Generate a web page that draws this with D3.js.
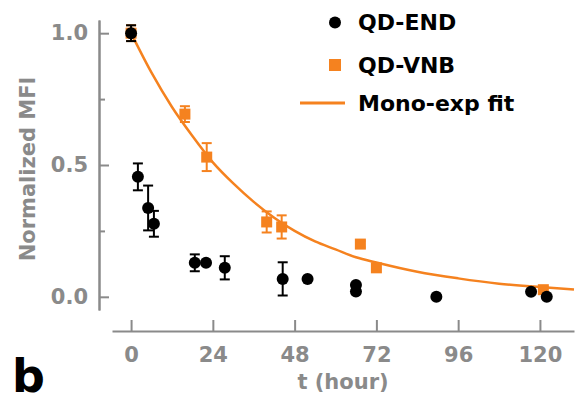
<html>
<head>
<script src="https://d3js.org/d3.v7.min.js"></script>
<style>
body { margin:0; background:#fff; }
text { font-family: "DejaVu Sans", sans-serif; font-weight: bold; }
</style>
</head>
<body>
<svg width="579" height="405"></svg>
<script>
// QD-END (black circles)
var endT   = [0, 2, 5, 6.7, 18.7, 22, 27.5, 44.5, 51.8, 66, 66, 89.6, 117.4, 122];
var endV   = [1.0, 0.455, 0.337, 0.277, 0.129, 0.129, 0.11, 0.068, 0.068, 0.045, 0.02, 0.0, 0.019, 0.0];
var endErr = [0.03, 0.051, 0.085, 0.049, 0.032, 0, 0.044, 0.063, 0, 0, 0, 0, 0, 0];
// QD-VNB (orange squares)
var vnbT   = [0, 15.8, 22.2, 39.8, 44.2, 67.3, 72, 121];
var vnbV   = [1.0, 0.693, 0.53, 0.284, 0.265, 0.2, 0.11, 0.027];
var vnbErr = [0.03, 0.03, 0.053, 0.04, 0.044, 0.012, 0, 0.01];
// mono-exponential fit
var fitT = [0, 6, 12, 18, 24, 30, 36, 42, 48, 54, 60, 66, 72, 84, 96, 108, 120, 130];
var fitV = [1.0, 0.85, 0.72, 0.61, 0.51, 0.43, 0.36, 0.30, 0.25, 0.21, 0.18, 0.15, 0.13, 0.095, 0.07, 0.05, 0.037, 0.028];

var xTicks = [0, 24, 48, 72, 96, 120];
var yTicks = [0, 0.5, 1.0];
var yMinor = [0.25, 0.75];
var legendLabels = ["QD-END", "QD-VNB", "Mono-exp fit"];

var orange = "#f5821f";
var grey = "#8a8a8a";

var svg = d3.select("svg");

var x = d3.scaleLinear().domain([-5.6, 130]).range([112, 574]);
var y = d3.scaleLinear().domain([-0.05, 1.05]).range([310, 20]);

// axes
var xAxis = svg.append("g")
	.attr("transform", "translate(0,331)")
	.call(d3.axisBottom(x).tickValues(xTicks).tickSizeInner(-11).tickSizeOuter(0).tickPadding(16));
var yAxis = svg.append("g")
	.attr("transform", "translate(99,0)")
	.call(d3.axisLeft(y).tickValues(yTicks).tickFormat(d3.format(".1f")).tickSizeInner(-10).tickSizeOuter(0).tickPadding(11));
var yAxisMinor = svg.append("g")
	.attr("transform", "translate(99,0)")
	.call(d3.axisLeft(y).tickValues(yMinor).tickFormat("").tickSizeInner(-6).tickSizeOuter(0));
[xAxis, yAxis, yAxisMinor].forEach(function(g) {
	g.select(".domain").attr("stroke", grey).attr("stroke-width", 2);
	g.selectAll(".tick line").attr("stroke", grey).attr("stroke-width", 2);
	g.selectAll(".tick text").attr("fill", grey).style("font-size", "21px").style("font-family", "DejaVu Sans").style("font-weight", "bold");
});

// axis titles
svg.append("text")
	.attr("x", 343).attr("y", 389)
	.attr("text-anchor", "middle")
	.attr("fill", grey)
	.style("font-size", "21px")
	.text("t (hour)");
svg.append("text")
	.attr("transform", "translate(35,169) rotate(-90)")
	.attr("text-anchor", "middle")
	.attr("fill", grey)
	.style("font-size", "21px")
	.text("Normalized MFI");
svg.append("text")
	.attr("x", 12).attr("y", 392)
	.attr("fill", "#000")
	.style("font-size", "46px")
	.text("b");

// fit line
var line = d3.line()
	.x(function(d, i) { return x(fitT[i]); })
	.y(function(d) { return y(d); })
	.curve(d3.curveMonotoneX);
svg.append("path")
	.attr("d", line(fitV))
	.attr("fill", "none")
	.attr("stroke", orange)
	.attr("stroke-width", 2.5);

function errorBars(g, ts, vs, es, color) {
	var idx = d3.range(ts.length).filter(function(i) { return es[i] > 0; });
	var eb = g.selectAll(".eb").data(idx).enter().append("g")
		.attr("stroke", color).attr("stroke-width", 2);
	eb.append("line")
		.attr("x1", function(i) { return x(ts[i]); })
		.attr("x2", function(i) { return x(ts[i]); })
		.attr("y1", function(i) { return y(vs[i] + es[i]); })
		.attr("y2", function(i) { return y(vs[i] - es[i]); });
	[1, -1].forEach(function(s) {
		eb.append("line")
			.attr("x1", function(i) { return x(ts[i]) - 5; })
			.attr("x2", function(i) { return x(ts[i]) + 5; })
			.attr("y1", function(i) { return y(vs[i] + s * es[i]); })
			.attr("y2", function(i) { return y(vs[i] + s * es[i]); });
	});
}

// QD-VNB
var gv = svg.append("g");
errorBars(gv, vnbT, vnbV, vnbErr, orange);
gv.selectAll("rect").data(vnbV).enter().append("rect")
	.attr("x", function(d, i) { return x(vnbT[i]) - 5.5; })
	.attr("y", function(d) { return y(d) - 5.5; })
	.attr("width", 11).attr("height", 11)
	.attr("fill", orange);

// QD-END
var ge = svg.append("g");
errorBars(ge, endT, endV, endErr, "#000");
ge.selectAll("circle").data(endV).enter().append("circle")
	.attr("cx", function(d, i) { return x(endT[i]); })
	.attr("cy", function(d) { return y(d); })
	.attr("r", 6)
	.attr("fill", "#000");

// legend
var lg = svg.append("g");
lg.append("circle").attr("cx", 335).attr("cy", 22.5).attr("r", 6).attr("fill", "#000");
lg.append("rect").attr("x", 329).attr("y", 59).attr("width", 12).attr("height", 12).attr("fill", orange);
lg.append("line").attr("x1", 300).attr("x2", 345).attr("y1", 103).attr("y2", 103)
	.attr("stroke", orange).attr("stroke-width", 3);
lg.selectAll("text").data(legendLabels).enter().append("text")
	.attr("x", 358)
	.attr("y", function(d, i) { return [30, 73, 111][i]; })
	.attr("fill", "#000")
	.style("font-size", "22px")
	.text(function(d) { return d; });
</script>
</body>
</html>
